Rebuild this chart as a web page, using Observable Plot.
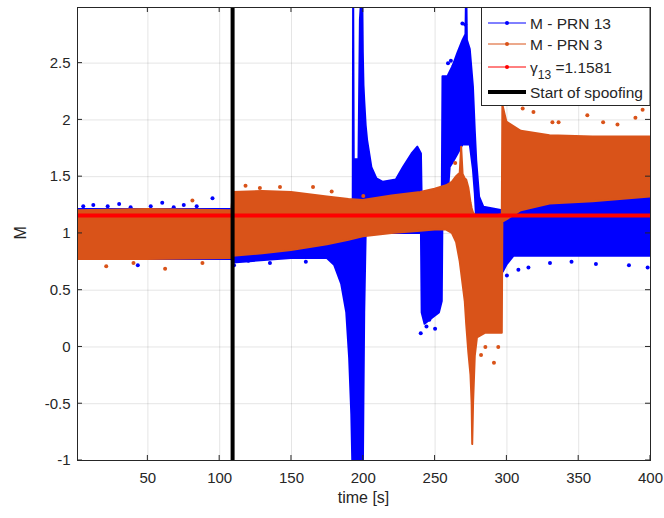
<!DOCTYPE html>
<html><head><meta charset="utf-8">
<script src="https://cdn.jsdelivr.net/npm/d3@7"></script>
<script src="https://cdn.jsdelivr.net/npm/@observablehq/plot@0.6"></script>
<style>body{margin:0;background:#fff;}</style>
</head><body><div id="chart"></div>
<script>
// ---- data ----
const xTicks = [50, 100, 150, 200, 250, 300, 350, 400];
const yTicks = [-1, -0.5, 0, 0.5, 1, 1.5, 2, 2.5];
const seriesNames = ["M - PRN 13", "M - PRN 3"];
const gamma13 = 1.1581;
const spoofStart = 109;

// PRN 13 envelope (time, min M, max M)
const prn13T  = [1, 50, 108.5, 109.5, 150, 175, 180, 185, 188.5, 190.5, 192, 193, 193.3, 193.7, 197, 198, 199.5, 200, 200.5, 201, 202, 203, 206, 209.5, 214, 223, 228, 234, 238, 240.5, 241, 243, 248, 253, 255, 255.5, 259, 260.5, 262.5, 266, 269.5, 271.5, 272, 272.5, 274.5, 276.7, 278, 279, 281, 284, 297, 297.5, 300, 305, 350, 400];
const prn13Lo = [0.77, 0.77, 0.77, 0.74, 0.78, 0.78, 0.72, 0.55, 0.3, -0.1, -0.6, -1.2, -1.2, -1.2, -1.2, -1.2, -1.2, -1.2, -0.4, 0.3, 0.98, 1.0, 1.0, 1.0, 1.0, 1.0, 1.0, 1.0, 1.0, 1.0, 0.3, 0.2, 0.25, 0.3, 0.4, 1.2, 1.3, 1.58, 1.62, 1.7, 1.78, 1.78, 1.78, 1.78, 1.78, 1.56, 1.35, 1.1, 1.0, 1.0, 1.0, 0.66, 0.72, 0.8, 0.8, 0.8];
const prn13Hi = [1.21, 1.21, 1.21, 1.2, 1.2, 1.22, 1.24, 1.26, 1.27, 1.28, 1.28, 1.3, 3.2, 1.65, 1.65, 2.88, 3.2, 2.6, 2.3, 2.17, 1.95, 1.82, 1.58, 1.48, 1.45, 1.47, 1.58, 1.7, 1.76, 1.7, 1.3, 1.3, 1.3, 1.3, 1.3, 2.38, 2.38, 2.42, 2.47, 2.59, 2.7, 2.75, 3.2, 2.7, 2.62, 2.29, 1.9, 1.64, 1.32, 1.23, 1.2, 1.2, 1.28, 1.3, 1.33, 1.35];
// PRN 13 isolated samples
const prn13OutT = [5, 12, 22, 30, 38, 43, 52, 60, 68, 75, 84, 95, 110, 120, 135, 160, 240, 244, 246, 250, 252, 259, 261, 263, 269, 271, 300, 308, 315, 330, 345, 362, 385, 398];
const prn13OutM = [1.24, 1.25, 1.24, 1.26, 1.23, 0.72, 1.24, 1.27, 1.23, 1.25, 1.24, 1.31, 0.72, 0.76, 0.74, 0.75, 0.12, 0.18, 0.24, 0.16, 0.35, 2.5, 2.52, 2.48, 2.85, 2.84, 0.63, 0.68, 0.7, 0.74, 0.75, 0.73, 0.72, 0.7];

// PRN 3 envelope
const prn3T  = [1, 50, 108.5, 109.5, 130, 150, 175, 190, 200, 220, 240, 250, 258, 262, 265, 267.5, 268.5, 269.5, 271, 272, 273.5, 275, 275.8, 276.2, 276.8, 278, 279.5, 285, 290, 295, 296.8, 297.2, 300, 310, 330, 360, 400];
const prn3Lo = [0.77, 0.77, 0.78, 0.8, 0.82, 0.85, 0.9, 0.94, 0.97, 1.0, 1.02, 1.03, 1.03, 1.0, 0.92, 0.75, 0.65, 0.55, 0.4, 0.2, -0.05, -0.25, -0.5, -0.86, -0.5, -0.08, 0.08, 0.12, 0.12, 0.12, 0.12, 1.1, 1.12, 1.2, 1.26, 1.28, 1.32];
const prn3Hi = [1.2, 1.21, 1.2, 1.36, 1.37, 1.36, 1.32, 1.3, 1.29, 1.33, 1.36, 1.39, 1.42, 1.45, 1.5, 1.53, 1.76, 1.52, 1.48, 1.47, 1.4, 1.27, 1.22, 1.2, 1.18, 1.16, 1.15, 1.15, 1.15, 1.16, 1.16, 2.13, 1.98, 1.9, 1.86, 1.85, 1.85];
const prn3OutT = [21, 40, 62, 81, 88, 118, 128, 142, 165, 178, 200, 264, 282, 285, 291, 294, 311, 318.5, 331.7, 336, 356, 367, 377, 389.5, 394.5];
const prn3OutM = [0.71, 0.74, 0.69, 1.29, 0.74, 1.42, 1.4, 1.41, 1.41, 1.37, 1.33, 1.62, -0.07, 0.0, -0.14, 0.0, 2.1, 2.07, 1.98, 1.98, 2.04, 1.98, 1.96, 2.02, 2.09];

const colors = {prn13: "#0000ff", prn3: "#d95319", gamma: "#ff0000", spoof: "#000000"};

const prn13 = prn13T.map((t, i) => ({t, lo: prn13Lo[i], hi: prn13Hi[i]}));
const prn3 = prn3T.map((t, i) => ({t, lo: prn3Lo[i], hi: prn3Hi[i]}));
const prn13Out = prn13OutT.map((t, i) => ({t, m: prn13OutM[i]}));
const prn3Out = prn3OutT.map((t, i) => ({t, m: prn3OutM[i]}));

const W = 664, H = 518, mL = 77, mR = 14, mT = 7, mB = 58;
const ink = "#262626";
const fmt = d => String(d);

const chart = Plot.plot({
  width: W, height: H,
  marginLeft: mL, marginRight: mR, marginTop: mT, marginBottom: mB,
  x: {domain: [1, 400]},
  y: {domain: [-1, 2.99]},
  style: {fontFamily: "'Liberation Sans', Arial, Helvetica, sans-serif", fontSize: "15px", color: ink, background: "#fff"},
  marks: [
    Plot.gridX(xTicks, {stroke: ink, strokeOpacity: 0.12}),
    Plot.gridY(yTicks, {stroke: ink, strokeOpacity: 0.12}),
    Plot.areaY(prn13, {x: "t", y1: "lo", y2: "hi", fill: colors.prn13, stroke: colors.prn13, strokeWidth: 2, strokeLinejoin: "round", curve: "linear", clip: true}),
    Plot.dot(prn13Out, {x: "t", y: "m", r: 2, fill: colors.prn13, clip: true}),
    Plot.areaY(prn3, {x: "t", y1: "lo", y2: "hi", fill: colors.prn3, stroke: colors.prn3, strokeWidth: 2, strokeLinejoin: "round", curve: "linear", clip: true}),
    Plot.dot(prn3Out, {x: "t", y: "m", r: 2, fill: colors.prn3, clip: true}),
    Plot.ruleY([gamma13], {stroke: colors.gamma, strokeWidth: 4}),
    Plot.ruleX([spoofStart], {stroke: colors.spoof, strokeWidth: 4}),
    Plot.frame({stroke: ink, strokeWidth: 1}),
    Plot.axisX(xTicks, {tickSize: 0, tickPadding: 12, label: null, tickFormat: fmt, fontSize: 15}),
    Plot.axisY(yTicks, {tickSize: 0, tickPadding: 7, label: null, tickFormat: fmt, fontSize: 15})
  ]
});
document.getElementById("chart").appendChild(chart);

const svg = d3.select(chart);
const xs = chart.scale("x"), ys = chart.scale("y");
const fTop = mT, fBottom = H - mB, fLeft = mL, fRight = W - mR;
const tg = svg.append("g").attr("stroke", ink).attr("stroke-width", 1);
xTicks.forEach(v => {
  const x = xs.apply(v);
  tg.append("line").attr("x1", x).attr("x2", x).attr("y1", fBottom).attr("y2", fBottom - 5);
  tg.append("line").attr("x1", x).attr("x2", x).attr("y1", fTop).attr("y2", fTop + 5);
});
yTicks.forEach(v => {
  const y = ys.apply(v);
  tg.append("line").attr("y1", y).attr("y2", y).attr("x1", fLeft).attr("x2", fLeft + 5);
  tg.append("line").attr("y1", y).attr("y2", y).attr("x1", fRight).attr("x2", fRight - 5);
});

// axis labels
svg.append("text").attr("x", (fLeft + fRight) / 2).attr("y", 503).attr("text-anchor", "middle")
  .attr("fill", ink).style("font-size", "16px").text("time [s]");
svg.append("text").attr("transform", `translate(26,${ys.apply(1)}) rotate(-90)`).attr("text-anchor", "middle")
  .attr("fill", ink).style("font-size", "16px").text("M");

// legend
const lg = svg.append("g").attr("text-anchor", "start");
lg.append("rect").attr("x", 481.5).attr("y", fTop + 0.5).attr("width", fRight - 481.5).attr("height", 98)
  .attr("fill", "#fff").attr("stroke", ink).attr("stroke-width", 1);
const entries = [
  {label: seriesNames[0], color: colors.prn13, w: 1, dot: true, y: 23},
  {label: seriesNames[1], color: colors.prn3, w: 1, dot: true, y: 44},
  {label: "gamma", color: colors.gamma, w: 1, dot: true, y: 67},
  {label: "Start of spoofing", color: colors.spoof, w: 4, dot: false, y: 92}
];
entries.forEach(e => {
  lg.append("line").attr("x1", 488).attr("x2", 526).attr("y1", e.y).attr("y2", e.y)
    .attr("stroke", e.color).attr("stroke-width", e.w);
  if (e.dot) lg.append("circle").attr("cx", 507).attr("cy", e.y).attr("r", 2).attr("fill", e.color);
  const t = lg.append("text").attr("x", 530).attr("y", e.y + 5.5).attr("text-anchor", "start")
    .attr("fill", ink).style("font-size", "15.5px");
  if (e.label === "gamma") {
    t.append("tspan").text("γ");
    t.append("tspan").attr("dy", 6).style("font-size", "12px").text("13");
    t.append("tspan").attr("dy", -6).text(" =" + gamma13);
  } else {
    t.text(e.label);
  }
});
</script>
</body></html>
